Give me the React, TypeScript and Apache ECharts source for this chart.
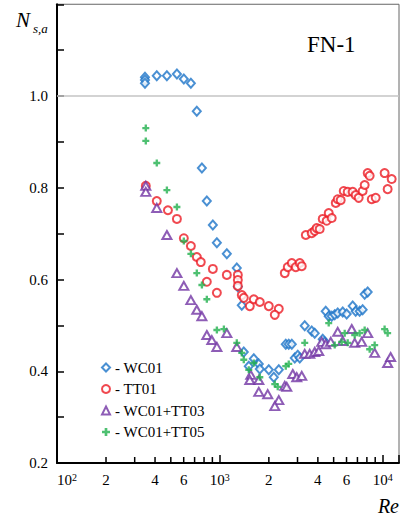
import React, { useEffect, useRef } from "react";
import * as echarts from "echarts";

const FONT = "Liberation Serif, Times New Roman, serif";

// WC01 (blue diamonds)
const wc01Re = [347, 347, 347, 410, 473, 545, 601, 664, 722, 776, 832, 906, 959, 1104, 1271, 1290, 1364, 1403, 1506, 1617, 1735, 1760, 1998, 2302, 2145, 2541, 2650, 2767, 2886, 3011, 3097, 3322, 3667, 3826, 4284, 4406, 4470, 4664, 4866, 5077, 5297, 5686, 6013, 6546, 6829, 7222, 7536, 7755, 8092];
const wc01N = [1.041, 1.035, 1.028, 1.044, 1.044, 1.048, 1.037, 1.028, 0.967, 0.843, 0.771, 0.719, 0.68, 0.656, 0.625, 0.584, 0.544, 0.442, 0.411, 0.427, 0.416, 0.405, 0.403, 0.403, 0.387, 0.459, 0.459, 0.459, 0.429, 0.435, 0.429, 0.499, 0.488, 0.483, 0.47, 0.464, 0.531, 0.52, 0.52, 0.523, 0.527, 0.529, 0.525, 0.542, 0.531, 0.531, 0.534, 0.568, 0.573];

// TT01 (red circles)
const tt01Re = [351, 410, 480, 545, 601, 664, 722, 764, 906, 832, 959, 1104, 1290, 1290, 1290, 1364, 1403, 1528, 1617, 1760, 1998, 2302, 2175, 2505, 2614, 2767, 2927, 3097, 3185, 3373, 3667, 3826, 3936, 4106, 4284, 4532, 4664, 4866, 5152, 5297, 5524, 5766, 6100, 6546, 6829, 7126, 7536, 7755, 8092, 8322, 8570, 9062, 10280, 10730, 11360];
const tt01N = [0.804, 0.771, 0.751, 0.732, 0.69, 0.673, 0.649, 0.638, 0.623, 0.595, 0.571, 0.61, 0.61, 0.599, 0.586, 0.566, 0.56, 0.542, 0.557, 0.551, 0.542, 0.536, 0.523, 0.614, 0.627, 0.636, 0.627, 0.636, 0.629, 0.697, 0.701, 0.706, 0.712, 0.71, 0.732, 0.728, 0.745, 0.734, 0.767, 0.775, 0.773, 0.793, 0.791, 0.791, 0.784, 0.778, 0.793, 0.806, 0.832, 0.826, 0.775, 0.778, 0.832, 0.797, 0.819];

// WC01+TT03 (purple triangles)
const tt03Re = [351, 351, 410, 473, 545, 601, 664, 722, 776, 832, 893, 959, 1104, 1271, 1549, 1528, 1735, 1735, 1968, 2302, 2175, 2505, 2577, 2805, 2967, 3185, 3322, 3566, 3826, 4049, 4227, 4470, 4800, 5297, 5686, 6457, 6736, 7430, 8092, 8933, 10730, 11190];
const tt03N = [0.804, 0.791, 0.756, 0.697, 0.614, 0.586, 0.555, 0.534, 0.52, 0.479, 0.468, 0.453, 0.483, 0.453, 0.392, 0.381, 0.381, 0.355, 0.35, 0.337, 0.324, 0.368, 0.366, 0.394, 0.387, 0.39, 0.438, 0.438, 0.442, 0.444, 0.464, 0.459, 0.464, 0.486, 0.466, 0.492, 0.462, 0.464, 0.483, 0.44, 0.418, 0.431];

// WC01+TT05 (green plus)
const tt05Re = [351, 351, 410, 473, 545, 601, 664, 722, 776, 832, 959, 1059, 1271, 1364, 1403, 1506, 1617, 1760, 2175, 2268, 2541, 2650, 3322, 4664, 5077, 5601, 5847, 6100, 6736, 7222, 7755, 8322, 8933, 10280, 10730];
const tt05N = [0.93, 0.902, 0.854, 0.795, 0.758, 0.684, 0.656, 0.614, 0.588, 0.557, 0.49, 0.492, 0.462, 0.44, 0.425, 0.403, 0.418, 0.387, 0.372, 0.366, 0.411, 0.416, 0.462, 0.505, 0.457, 0.464, 0.483, 0.462, 0.479, 0.483, 0.49, 0.448, 0.457, 0.492, 0.483];

const seriesNames = ["WC01", "TT01", "WC01+TT03", "WC01+TT05"];

// x axis minor ticks and their labels
const minorTickValues = [200, 300, 400, 500, 600, 700, 800, 900, 2000, 3000, 4000, 5000, 6000, 7000, 8000, 9000];
const minorTickLabels = ["2", "", "4", "", "6", "", "", "", "2", "", "4", "", "6", "", "", ""];
const majorTickExponents: Record<number, string> = { 100: "2", 1000: "3", 10000: "4" };
const yLabelValues = [0.2, 0.4, 0.6, 0.8, 1.0];

const zip = (a: number[], b: number[]) => a.map((v, i) => [v, b[i]]);

const PLUS = "path://M2,0L4,0L4,2L6,2L6,4L4,4L4,6L2,6L2,4L0,4L0,2L2,2Z";

export default function App() {
  const ref = useRef<HTMLDivElement>(null);
  useEffect(() => {
    document.body.style.margin = "0";
    const chart = echarts.init(ref.current!, null, { renderer: "svg" });
    const blue = "#1d74c8";
    const red = "#ec1c24";
    const purple = "#7234a4";
    const green = "#22b04e";
    const txt = "#000";
    chart.setOption({
      animation: false,
      backgroundColor: "#fff",
      textStyle: { fontFamily: FONT },
      grid: { left: 57, right: 2, top: 4.25, bottom: 54, show: true, borderColor: "#666", borderWidth: 1 },
      xAxis: {
        type: "log",
        logBase: 10,
        min: 100,
        max: 12600,
        axisLine: { lineStyle: { color: "#000", width: 2 } },
        axisTick: { inside: true, length: 8, lineStyle: { color: "#000", width: 1.5 } },
        splitLine: { show: false },
        minorTick: { show: false },
        axisLabel: {
          margin: 9,
          alignMinLabel: "left",
          formatter: (v: number) => {
            const e = majorTickExponents[Math.round(v)];
            return e ? `{b|10}{s|${e}}` : "";
          },
          rich: {
            b: { fontSize: 15, fontFamily: FONT, color: txt },
            s: { fontSize: 10, fontFamily: FONT, color: txt, verticalAlign: "top" },
          },
        },
      },
      yAxis: {
        type: "value",
        min: 0.2,
        max: 1.2,
        interval: 0.1,
        axisLine: { show: true, lineStyle: { color: "#000", width: 2 } },
        axisTick: { show: true, inside: true, length: 7, lineStyle: { color: "#000", width: 1.5 } },
        splitLine: { show: false },
        axisLabel: {
          margin: 9,
          fontSize: 15,
          fontFamily: FONT,
          color: txt,
          formatter: (v: number) => (yLabelValues.some((y) => Math.abs(y - v) < 1e-6) ? v.toFixed(1) : ""),
        },
      },
      legend: {
        data: seriesNames,
        orient: "vertical",
        left: 96,
        top: 355,
        itemWidth: 8,
        itemHeight: 8,
        itemGap: 6.5,
        formatter: (n: string) => "- " + n,
        textStyle: { fontSize: 15, fontFamily: FONT, color: txt },
      },
      graphic: [
        { type: "text", left: 16, top: 9, style: { text: "N", fontFamily: FONT, fontStyle: "italic", fontSize: 21, fill: txt } },
        { type: "text", left: 33, top: 22, style: { text: "s,a", fontFamily: FONT, fontStyle: "italic", fontSize: 13, fill: txt } },
        { type: "text", left: 307, top: 33, style: { text: "FN-1", fontFamily: FONT, fontSize: 23, fill: txt } },
        { type: "text", right: 3, top: 496, style: { text: "Re", fontFamily: FONT, fontStyle: "italic", fontSize: 20, fill: txt } },
      ],
      series: [
        {
          name: "WC01",
          type: "scatter",
          symbol: "emptyDiamond",
          symbolSize: [8, 9],
          itemStyle: { color: blue, borderColor: blue, borderWidth: 2.2 },
          data: zip(wc01Re, wc01N),
          markLine: {
            silent: true,
            symbol: "none",
            label: { show: false },
            lineStyle: { color: "#c4c4c4", width: 1.5, type: "solid" },
            data: [{ yAxis: 1.0 }],
          },
        },
        {
          name: "TT01",
          type: "scatter",
          symbol: "emptyCircle",
          symbolSize: 8,
          itemStyle: { color: red, borderColor: red, borderWidth: 2.2 },
          data: zip(tt01Re, tt01N),
        },
        {
          name: "WC01+TT03",
          type: "scatter",
          symbol: "emptyTriangle",
          symbolSize: [9, 8],
          itemStyle: { color: purple, borderColor: purple, borderWidth: 2.2 },
          data: zip(tt03Re, tt03N),
        },
        {
          name: "WC01+TT05",
          type: "scatter",
          symbol: PLUS,
          symbolSize: 7,
          itemStyle: { color: green },
          data: zip(tt05Re, tt05N),
        },
        {
          type: "custom",
          silent: true,
          clip: false,
          data: minorTickValues.map((v) => [v, 0.2]),
          renderItem: (params: any, api: any) => {
            const p = api.coord([api.value(0), 0.2]);
            const label = minorTickLabels[params.dataIndex];
            const children: any[] = [
              { type: "line", shape: { x1: p[0], y1: p[1], x2: p[0], y2: p[1] - 6 }, style: { stroke: "#000", lineWidth: 1.5 } },
            ];
            if (label) {
              children.push({
                type: "text",
                x: p[0],
                y: p[1] + 9,
                style: { text: label, align: "center", verticalAlign: "top", fontFamily: FONT, fontSize: 15, fill: txt },
              });
            }
            return { type: "group", children };
          },
        },
      ],
    });
    return () => chart.dispose();
  }, []);
  return <div ref={ref} style={{ width: 402, height: 517 }} />;
}
